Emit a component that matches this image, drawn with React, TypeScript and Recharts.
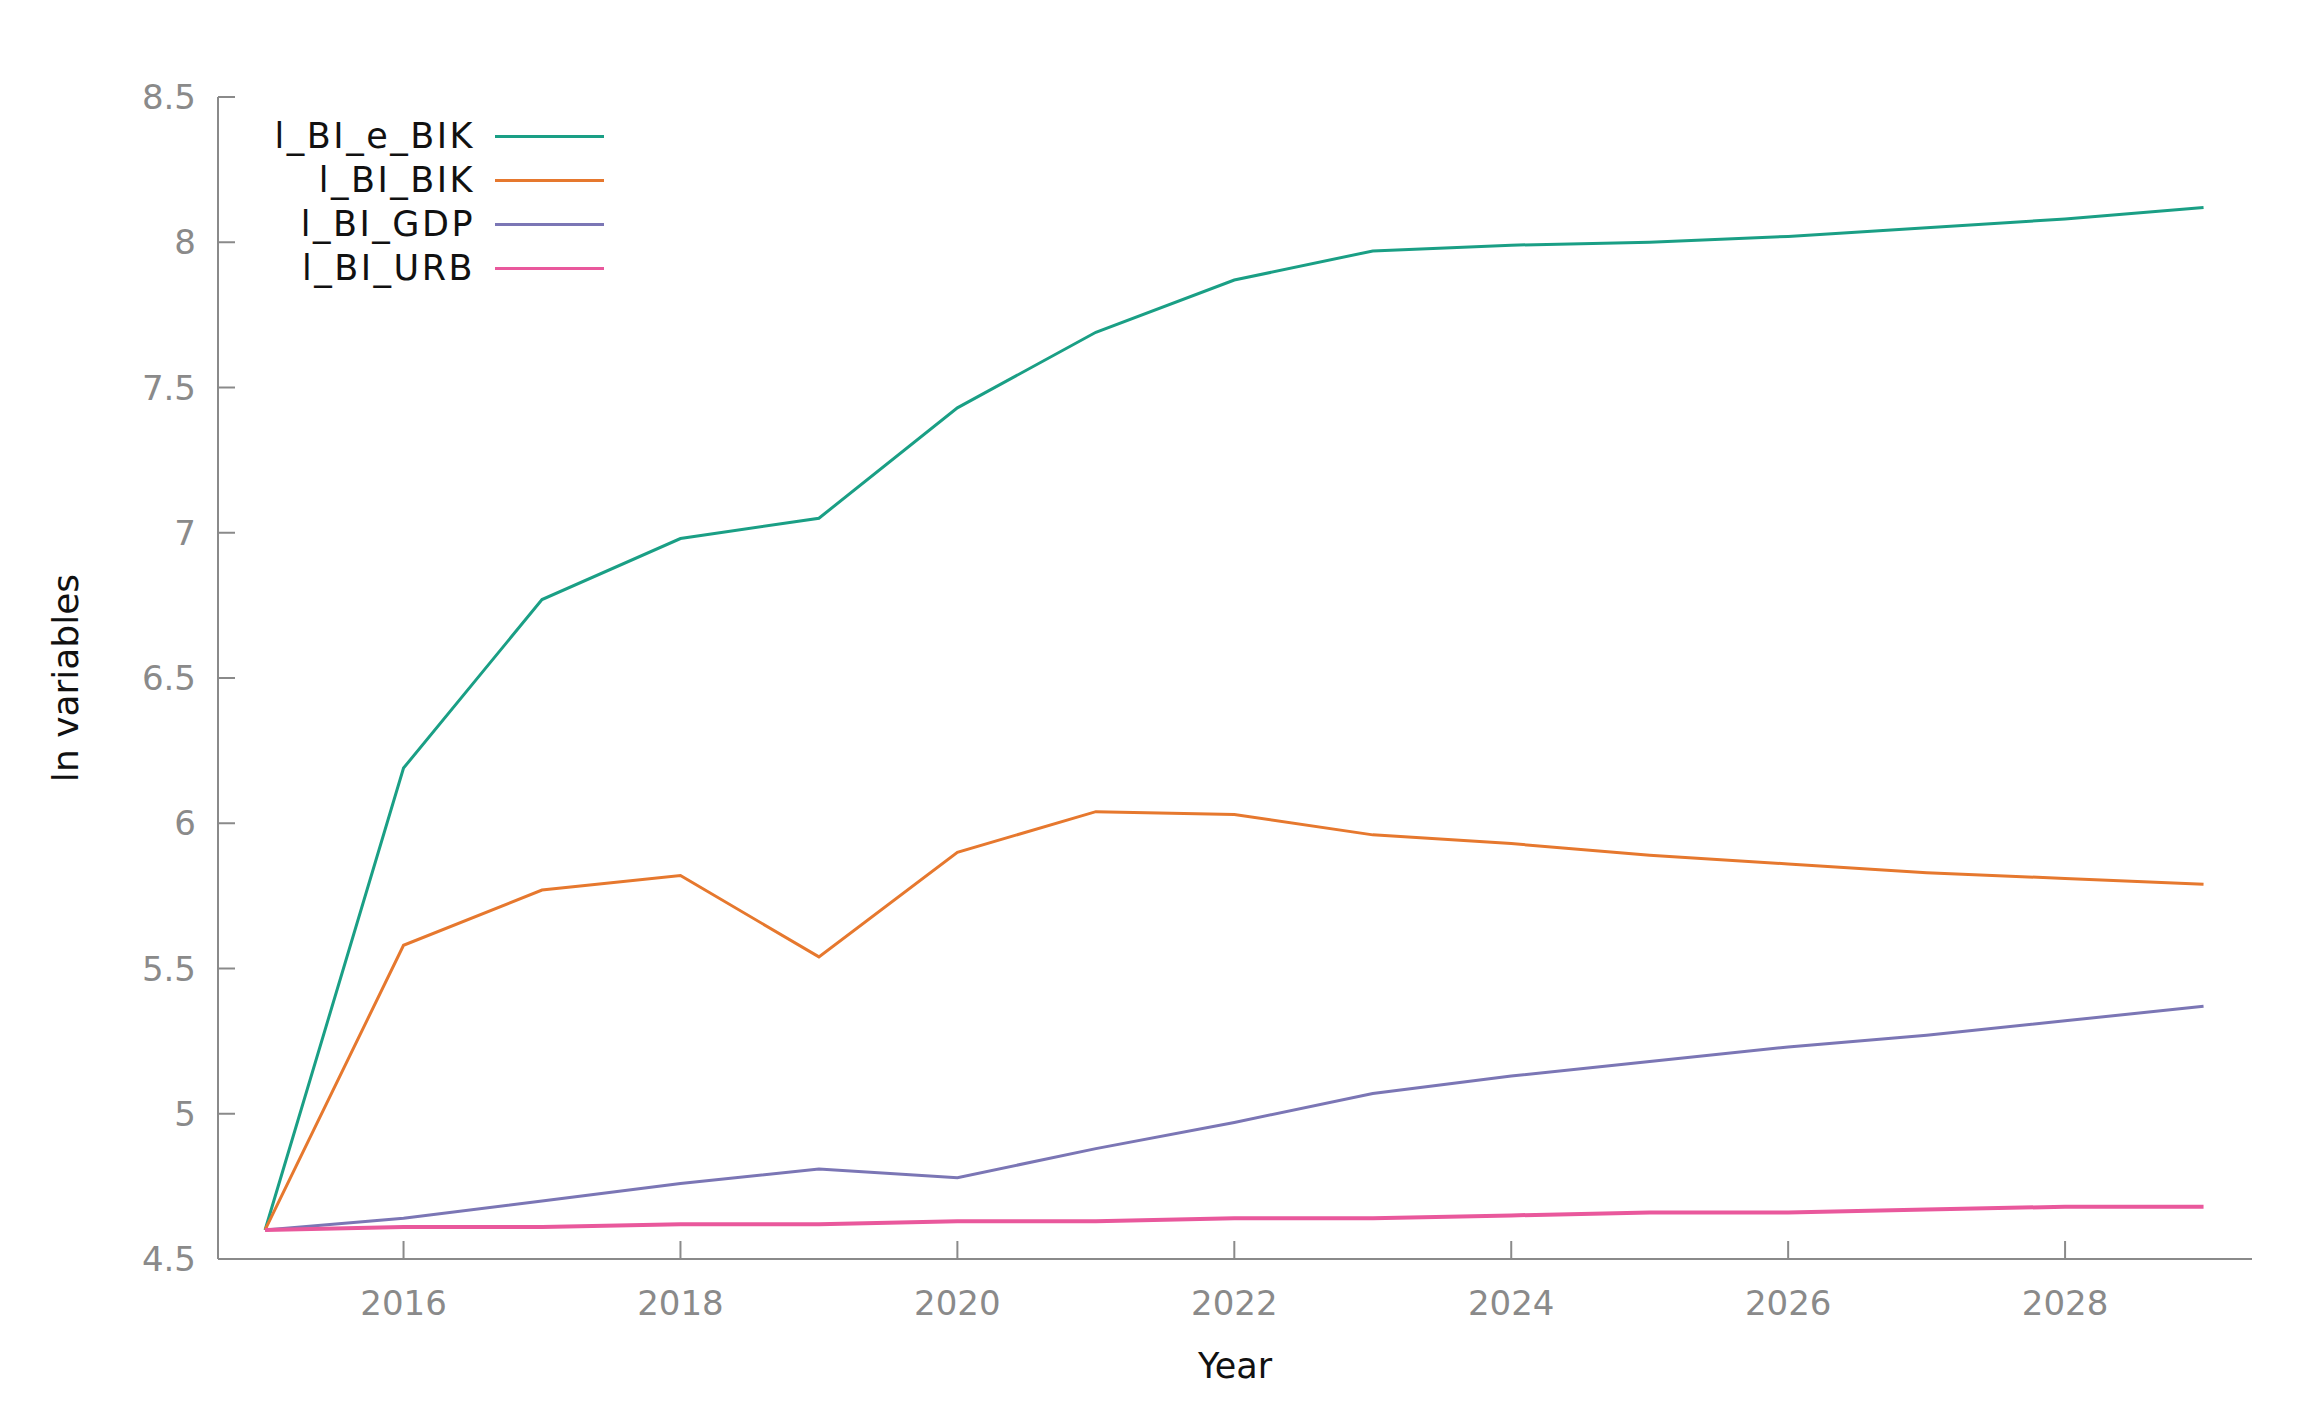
import React from "react"
import { LineChart, Line, XAxis, YAxis, Legend } from "recharts"

const years = [2015, 2016, 2017, 2018, 2019, 2020, 2021, 2022, 2023, 2024, 2025, 2026, 2027, 2028, 2029]
const eBik = [4.6, 6.19, 6.77, 6.98, 7.05, 7.43, 7.69, 7.87, 7.97, 7.99, 8.0, 8.02, 8.05, 8.08, 8.12]
const bik = [4.6, 5.58, 5.77, 5.82, 5.54, 5.9, 6.04, 6.03, 5.96, 5.93, 5.89, 5.86, 5.83, 5.81, 5.79]
const gdp = [4.6, 4.64, 4.7, 4.76, 4.81, 4.78, 4.88, 4.97, 5.07, 5.13, 5.18, 5.23, 5.27, 5.32, 5.37]
const urb = [4.6, 4.61, 4.61, 4.62, 4.62, 4.63, 4.63, 4.64, 4.64, 4.65, 4.66, 4.66, 4.67, 4.68, 4.68]

const xTicks = [2016, 2018, 2020, 2022, 2024, 2026, 2028]
const yTicks = [4.5, 5, 5.5, 6, 6.5, 7, 7.5, 8, 8.5]

const series = [
  { key: "eBik", name: "l_BI_e_BIK", color: "#1a9f85", width: 3 },
  { key: "bik", name: "l_BI_BIK", color: "#e6782e", width: 3 },
  { key: "gdp", name: "l_BI_GDP", color: "#7b76b5", width: 3 },
  { key: "urb", name: "l_BI_URB", color: "#e9589c", width: 4 },
]

const data = years.map((year, i) => ({
  year,
  eBik: eBik[i],
  bik: bik[i],
  gdp: gdp[i],
  urb: urb[i],
}))

const font = "'DejaVu Sans', sans-serif"
const axisGray = "#8a8a8a"

function LegendBox() {
  return (
    <div style={{ fontFamily: font, fontSize: 35, color: "#111", letterSpacing: 2.5 }}>
      {series.map(s => (
        <div key={s.key} style={{ display: "flex", alignItems: "center", height: 44 }}>
          <span style={{ width: 275, textAlign: "right", lineHeight: "44px" }}>{s.name}</span>
          <span style={{ width: 20 }} />
          <span style={{ width: 109, height: 3, background: s.color, display: "inline-block" }} />
        </div>
      ))}
    </div>
  )
}

export default function App() {
  return (
    <div style={{ position: "absolute", left: 0, top: 0, background: "#fff" }}>
      <LineChart width={2300} height={1411} data={data} margin={{ top: 97, right: 48, left: 0, bottom: 0 }}>
        <XAxis
          dataKey="year"
          type="number"
          domain={[2014.66, 2029.35]}
          ticks={xTicks}
          allowDataOverflow
          height={152}
          stroke={axisGray}
          strokeWidth={2}
          tickSize={-18}
          tickMargin={50}
          tick={{ fill: axisGray, fontSize: 34, fontFamily: font }}
          label={({ viewBox }: any) => (
            <text
              x={viewBox.x + viewBox.width / 2}
              y={1378}
              textAnchor="middle"
              fontSize={35}
              fontFamily={font}
              fill="#111"
            >
              Year
            </text>
          )}
        />
        <YAxis
          domain={[4.5, 8.5]}
          ticks={yTicks}
          allowDataOverflow
          width={218}
          stroke={axisGray}
          strokeWidth={2}
          tickSize={-17}
          tickMargin={39}
          tick={{ fill: axisGray, fontSize: 34, fontFamily: font }}
          label={({ viewBox }: any) => (
            <text
              x={65}
              y={viewBox.y + viewBox.height / 2}
              transform={`rotate(-90 65 ${viewBox.y + viewBox.height / 2})`}
              textAnchor="middle"
              dominantBaseline="central"
              fontSize={36}
              fontFamily={font}
              fill="#111"
            >
              ln variables
            </text>
          )}
        />
        <Legend
          layout="vertical"
          align="center"
          verticalAlign="middle"
          content={() => <LegendBox />}
          wrapperStyle={{ left: 200, top: 114, width: 420 }}
        />
        {series.map(s => (
          <Line
            key={s.key}
            type="linear"
            dataKey={s.key}
            name={s.name}
            stroke={s.color}
            strokeWidth={s.width}
            dot={false}
            activeDot={false}
            isAnimationActive={false}
          />
        ))}
      </LineChart>
    </div>
  )
}
